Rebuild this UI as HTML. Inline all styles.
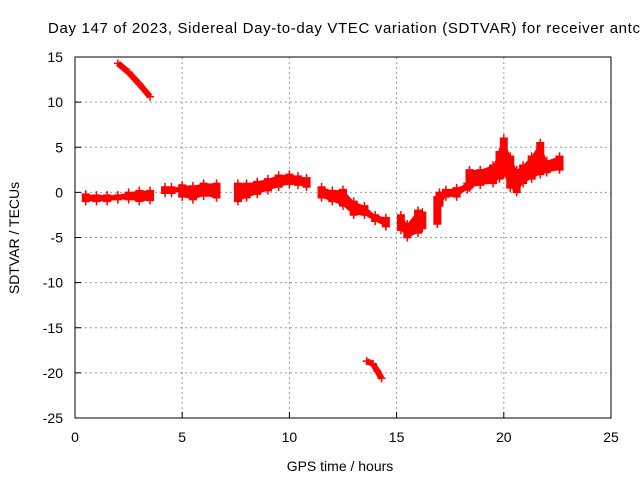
<!DOCTYPE html>
<html><head><meta charset="utf-8"><style>
body{margin:0;background:#fff;}
svg{display:block;font-family:"Liberation Sans",Arial,sans-serif;}
</style></head><body>
<svg id="chart" width="640" height="480">
<text x="48" y="33" font-size="15" textLength="592" lengthAdjust="spacing">Day 147 of 2023, Sidereal Day-to-day VTEC variation (SDTVAR) for receiver antc</text>
<g id="grid"></g>
<g id="marks"></g>
<rect x="75" y="57" width="536" height="361" fill="none" stroke="#000" stroke-width="1"/>
<g id="ticks"></g>
<text x="340" y="471" font-size="14" text-anchor="middle">GPS time / hours</text>
<text transform="translate(19,238) rotate(-90)" font-size="14" text-anchor="middle">SDTVAR / TECUs</text>
</svg>
<script>
const xTicks=[0,5,10,15,20,25];
const yTicks=[15,10,5,0,-5,-10,-15,-20,-25];
const hours=[0.5,1.0,1.5,2.0,2.5,3.0,3.5, 4.2,4.5,4.9, 5.0,5.5,6.0,6.6, 7.6,8.0,8.5,9.0,9.5,10.0,10.4,10.8, 11.5,12.0,12.5,13.0,13.5,14.0,14.5, 15.2,15.5,16.0,16.2, 16.9,17.0,17.3, 17.8,18.3, 18.4,18.9,19.5,19.8,20.0,20.3,20.6,20.9,21.3,21.7,22.0,22.6];
const upper=[-0.2,-0.3,-0.3,-0.3,0.0,0.2,0.2, 0.6,0.6,0.5, 0.8,0.7,1.0,1.0, 1.0,1.0,1.2,1.5,1.9,2.0,1.8,1.6, 0.6,0.2,0.3,-1.0,-1.5,-2.5,-2.8, -2.5,-3.5,-2.0,-2.2, -0.5,0.0,0.3, 0.5,1.0, 2.5,2.5,3.0,4.5,6.0,4.0,2.5,3.0,4.0,5.5,3.5,4.0];
const lower=[-1.0,-1.0,-1.0,-0.8,-0.8,-1.0,-0.9, -0.1,-0.1,0.1, -0.5,-0.8,-0.4,-0.6, -1.0,-0.6,-0.2,0.2,0.6,0.9,0.8,0.6, -0.6,-1.0,-1.5,-2.5,-2.5,-3.2,-3.8, -4.2,-5.0,-4.5,-4.0, -3.5,-1.5,-0.5, -0.5,0.3, 0.5,0.8,1.0,1.5,2.0,0.5,0.0,1.0,1.5,2.0,2.2,2.5];
const topHours=[2.0,2.5,3.0,3.5];
const topVals=[14.3,13.3,12.0,10.6];
const lowHours=[13.6,13.9,14.1,14.3];
const lowVals=[-18.7,-19.0,-19.8,-20.6];
const X=h=>75+h*536/25, Y=v=>57+(15-v)*361/40;
const NS="http://www.w3.org/2000/svg";
const grid=document.getElementById('grid'),ticks=document.getElementById('ticks'),marks=document.getElementById('marks');
function mk(tag,attrs,parent){const e=document.createElementNS(NS,tag);for(const k in attrs)e.setAttribute(k,attrs[k]);parent.appendChild(e);return e;}
xTicks.forEach(t=>{
  if(t>0&&t<25){const g=mk('line',{x1:X(t),x2:X(t),y1:57,y2:418,stroke:'#999','stroke-dasharray':'2,3'},grid);
  
  }
  mk('line',{x1:X(t),x2:X(t),y1:418,y2:412,stroke:'#000'},ticks);
  const tx=mk('text',{x:X(t),y:442,'font-size':14,'text-anchor':'middle'},ticks);tx.textContent=t;
  
  
});
yTicks.forEach(t=>{
  if(t<15&&t>-25){const g=mk('line',{x1:75,x2:611,y1:Y(t),y2:Y(t),stroke:'#999','stroke-dasharray':'2,3'},grid);
  
  }
  mk('line',{x1:75,x2:81,y1:Y(t),y2:Y(t),stroke:'#000'},ticks);
  const tx=mk('text',{x:63,y:Y(t)+5,'font-size':14,'text-anchor':'end'},ticks);tx.textContent=t;
  
  
});
function plus(h,v){
  const p=mk('path',{d:`M${X(h)-4},${Y(v)}h8M${X(h)},${Y(v)-4}v8`,stroke:'#f00','stroke-width':1.5},marks);
  
  
}
hours.forEach((h,i)=>{
  const b=mk('line',{x1:X(h),x2:X(h),y1:Y(upper[i]),y2:Y(lower[i]),stroke:'#f00','stroke-width':8},marks);
  
  
  plus(h,upper[i]);plus(h,lower[i]);
  if(i>0&&hours[i]-hours[i-1]<0.65){
    const poly=mk('polygon',{points:`${X(hours[i-1])},${Y(upper[i-1])} ${X(h)},${Y(upper[i])} ${X(h)},${Y(lower[i])} ${X(hours[i-1])},${Y(lower[i-1])}`,fill:'#f00'},marks);
    
    
  }
});
function strand(hs,vs,name){
  hs.forEach((h,i)=>{plus(h,vs[i]);
    if(i>0){const l=mk('line',{x1:X(hs[i-1]),y1:Y(vs[i-1]),x2:X(h),y2:Y(vs[i]),stroke:'#f00','stroke-width':6},marks);
    
    }
  });
}
strand(topHours,topVals,'upper-strand');
strand(lowHours,lowVals,'lower-strand');
</script>
</body></html>
